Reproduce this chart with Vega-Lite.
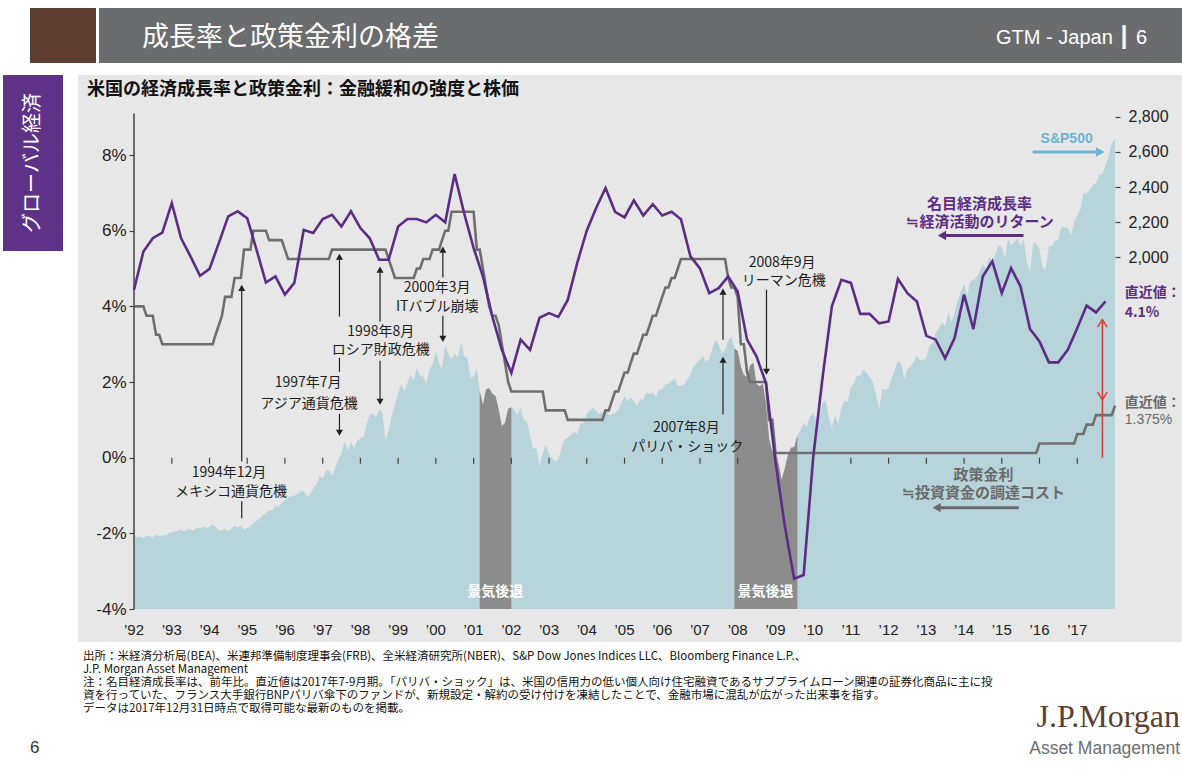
{
"$schema":"https://vega.github.io/schema/vega-lite/v6.json",
"padding":{"left":3,"top":8,"right":0,"bottom":0},
"background":"white",
"spacing":12,
"config":{"view":{"stroke":null},"font":"Noto Sans CJK JP","title":{"font":"Noto Sans CJK JP"},"text":{"font":"Noto Sans CJK JP"},"axis":{"labelFont":"Liberation Sans","grid":false}},
"datasets":{
"sp":[{"d":"1992-01-01","v":417.1},
{"d":"1992-02-01","v":408.8},{"d":"1992-03-01","v":412.7},{"d":"1992-04-01","v":403.7},{"d":"1992-05-01","v":414.9},{"d":"1992-06-01","v":415.4},{"d":"1992-07-01","v":408.1},{"d":"1992-08-01","v":424.2},{"d":"1992-09-01","v":414.0},{"d":"1992-10-01","v":417.8},{"d":"1992-11-01","v":418.7},{"d":"1992-12-01","v":431.4},{"d":"1993-01-01","v":435.7},
{"d":"1993-02-01","v":438.8},{"d":"1993-03-01","v":443.4},{"d":"1993-04-01","v":451.7},{"d":"1993-05-01","v":440.2},{"d":"1993-06-01","v":450.2},{"d":"1993-07-01","v":451.0},{"d":"1993-08-01","v":448.1},{"d":"1993-09-01","v":463.6},{"d":"1993-10-01","v":458.9},{"d":"1993-11-01","v":467.8},{"d":"1993-12-01","v":461.8},{"d":"1994-01-01","v":466.5},
{"d":"1994-02-01","v":481.6},{"d":"1994-03-01","v":467.1},{"d":"1994-04-01","v":445.8},{"d":"1994-05-01","v":450.9},{"d":"1994-06-01","v":456.5},{"d":"1994-07-01","v":444.3},{"d":"1994-08-01","v":458.3},{"d":"1994-09-01","v":475.5},{"d":"1994-10-01","v":462.7},{"d":"1994-11-01","v":472.4},{"d":"1994-12-01","v":453.7},{"d":"1995-01-01","v":459.3},
{"d":"1995-02-01","v":470.4},{"d":"1995-03-01","v":487.4},{"d":"1995-04-01","v":500.7},{"d":"1995-05-01","v":514.7},{"d":"1995-06-01","v":533.4},{"d":"1995-07-01","v":544.8},{"d":"1995-08-01","v":562.1},{"d":"1995-09-01","v":561.9},{"d":"1995-10-01","v":584.4},{"d":"1995-11-01","v":581.5},{"d":"1995-12-01","v":605.4},{"d":"1996-01-01","v":615.9},
{"d":"1996-02-01","v":636.0},{"d":"1996-03-01","v":640.4},{"d":"1996-04-01","v":645.5},{"d":"1996-05-01","v":654.2},{"d":"1996-06-01","v":669.1},{"d":"1996-07-01","v":670.6},{"d":"1996-08-01","v":639.9},{"d":"1996-09-01","v":652.0},{"d":"1996-10-01","v":687.3},{"d":"1996-11-01","v":705.3},{"d":"1996-12-01","v":757.0},{"d":"1997-01-01","v":740.7},
{"d":"1997-02-01","v":786.2},{"d":"1997-03-01","v":790.8},{"d":"1997-04-01","v":757.1},{"d":"1997-05-01","v":801.3},{"d":"1997-06-01","v":848.3},{"d":"1997-07-01","v":885.1},{"d":"1997-08-01","v":954.3},{"d":"1997-09-01","v":899.5},{"d":"1997-10-01","v":947.3},{"d":"1997-11-01","v":914.6},{"d":"1997-12-01","v":955.4},{"d":"1998-01-01","v":970.4},
{"d":"1998-02-01","v":980.3},{"d":"1998-03-01","v":1049.3},{"d":"1998-04-01","v":1101.8},{"d":"1998-05-01","v":1111.8},{"d":"1998-06-01","v":1090.8},{"d":"1998-07-01","v":1133.8},{"d":"1998-08-01","v":1120.7},{"d":"1998-09-01","v":957.3},{"d":"1998-10-01","v":1017.0},{"d":"1998-11-01","v":1098.7},{"d":"1998-12-01","v":1163.6},{"d":"1999-01-01","v":1229.2},
{"d":"1999-02-01","v":1279.6},{"d":"1999-03-01","v":1238.3},{"d":"1999-04-01","v":1286.4},{"d":"1999-05-01","v":1335.2},{"d":"1999-06-01","v":1301.8},{"d":"1999-07-01","v":1372.7},{"d":"1999-08-01","v":1328.7},{"d":"1999-09-01","v":1320.4},{"d":"1999-10-01","v":1282.7},{"d":"1999-11-01","v":1362.9},{"d":"1999-12-01","v":1388.9},{"d":"2000-01-01","v":1469.3},
{"d":"2000-02-01","v":1394.5},{"d":"2000-03-01","v":1366.4},{"d":"2000-04-01","v":1498.6},{"d":"2000-05-01","v":1452.4},{"d":"2000-06-01","v":1420.6},{"d":"2000-07-01","v":1454.6},{"d":"2000-08-01","v":1430.8},{"d":"2000-09-01","v":1517.7},{"d":"2000-10-01","v":1436.5},{"d":"2000-11-01","v":1429.4},{"d":"2000-12-01","v":1315.2},{"d":"2001-01-01","v":1320.3},
{"d":"2001-02-01","v":1366.0},{"d":"2001-03-01","v":1239.9},{"d":"2001-04-01","v":1160.3},{"d":"2001-05-01","v":1249.5},{"d":"2001-06-01","v":1255.8},{"d":"2001-07-01","v":1224.4},{"d":"2001-08-01","v":1211.2},{"d":"2001-09-01","v":1133.6},{"d":"2001-10-01","v":1040.9},{"d":"2001-11-01","v":1059.8},{"d":"2001-12-01","v":1139.5},{"d":"2002-01-01","v":1148.1},
{"d":"2002-02-01","v":1130.2},{"d":"2002-03-01","v":1106.7},{"d":"2002-04-01","v":1147.4},{"d":"2002-05-01","v":1076.9},{"d":"2002-06-01","v":1067.1},{"d":"2002-07-01","v":989.8},{"d":"2002-08-01","v":911.6},{"d":"2002-09-01","v":916.1},{"d":"2002-10-01","v":815.3},{"d":"2002-11-01","v":885.8},{"d":"2002-12-01","v":936.3},{"d":"2003-01-01","v":879.8},
{"d":"2003-02-01","v":855.7},{"d":"2003-03-01","v":841.2},{"d":"2003-04-01","v":848.2},{"d":"2003-05-01","v":916.9},{"d":"2003-06-01","v":963.6},{"d":"2003-07-01","v":974.5},{"d":"2003-08-01","v":990.3},{"d":"2003-09-01","v":1008.0},{"d":"2003-10-01","v":996.0},{"d":"2003-11-01","v":1050.7},{"d":"2003-12-01","v":1058.2},{"d":"2004-01-01","v":1111.9},
{"d":"2004-02-01","v":1131.1},{"d":"2004-03-01","v":1144.9},{"d":"2004-04-01","v":1126.2},{"d":"2004-05-01","v":1107.3},{"d":"2004-06-01","v":1120.7},{"d":"2004-07-01","v":1140.8},{"d":"2004-08-01","v":1101.7},{"d":"2004-09-01","v":1104.2},{"d":"2004-10-01","v":1114.6},{"d":"2004-11-01","v":1130.2},{"d":"2004-12-01","v":1173.8},{"d":"2005-01-01","v":1211.9},
{"d":"2005-02-01","v":1181.3},{"d":"2005-03-01","v":1203.6},{"d":"2005-04-01","v":1180.6},{"d":"2005-05-01","v":1156.9},{"d":"2005-06-01","v":1191.5},{"d":"2005-07-01","v":1191.3},{"d":"2005-08-01","v":1234.2},{"d":"2005-09-01","v":1220.3},{"d":"2005-10-01","v":1228.8},{"d":"2005-11-01","v":1207.0},{"d":"2005-12-01","v":1249.5},{"d":"2006-01-01","v":1248.3},
{"d":"2006-02-01","v":1280.1},{"d":"2006-03-01","v":1280.7},{"d":"2006-04-01","v":1294.9},{"d":"2006-05-01","v":1310.6},{"d":"2006-06-01","v":1270.1},{"d":"2006-07-01","v":1270.2},{"d":"2006-08-01","v":1276.7},{"d":"2006-09-01","v":1303.8},{"d":"2006-10-01","v":1335.9},{"d":"2006-11-01","v":1377.9},{"d":"2006-12-01","v":1400.6},{"d":"2007-01-01","v":1418.3},
{"d":"2007-02-01","v":1438.2},{"d":"2007-03-01","v":1406.8},{"d":"2007-04-01","v":1420.9},{"d":"2007-05-01","v":1482.4},{"d":"2007-06-01","v":1530.6},{"d":"2007-07-01","v":1503.4},{"d":"2007-08-01","v":1455.3},{"d":"2007-09-01","v":1474.0},{"d":"2007-10-01","v":1527.0},{"d":"2007-11-01","v":1549.4},{"d":"2007-12-01","v":1481.1},{"d":"2008-01-01","v":1468.4},
{"d":"2008-02-01","v":1378.6},{"d":"2008-03-01","v":1330.6},{"d":"2008-04-01","v":1322.7},{"d":"2008-05-01","v":1385.6},{"d":"2008-06-01","v":1400.4},{"d":"2008-07-01","v":1280.0},{"d":"2008-08-01","v":1267.4},{"d":"2008-09-01","v":1282.8},{"d":"2008-10-01","v":1166.4},{"d":"2008-11-01","v":968.8},{"d":"2008-12-01","v":896.2},{"d":"2009-01-01","v":903.3},
{"d":"2009-02-01","v":825.9},{"d":"2009-03-01","v":735.1},{"d":"2009-04-01","v":797.9},{"d":"2009-05-01","v":872.8},{"d":"2009-06-01","v":919.1},{"d":"2009-07-01","v":919.3},{"d":"2009-08-01","v":987.5},{"d":"2009-09-01","v":1020.6},{"d":"2009-10-01","v":1057.1},{"d":"2009-11-01","v":1036.2},{"d":"2009-12-01","v":1095.6},{"d":"2010-01-01","v":1115.1},
{"d":"2010-02-01","v":1073.9},{"d":"2010-03-01","v":1104.5},{"d":"2010-04-01","v":1169.4},{"d":"2010-05-01","v":1186.7},{"d":"2010-06-01","v":1089.4},{"d":"2010-07-01","v":1030.7},{"d":"2010-08-01","v":1101.6},{"d":"2010-09-01","v":1049.3},{"d":"2010-10-01","v":1141.2},{"d":"2010-11-01","v":1183.3},{"d":"2010-12-01","v":1180.6},{"d":"2011-01-01","v":1257.6},
{"d":"2011-02-01","v":1286.1},{"d":"2011-03-01","v":1327.2},{"d":"2011-04-01","v":1325.8},{"d":"2011-05-01","v":1363.6},{"d":"2011-06-01","v":1345.2},{"d":"2011-07-01","v":1320.6},{"d":"2011-08-01","v":1292.3},{"d":"2011-09-01","v":1218.9},{"d":"2011-10-01","v":1131.4},{"d":"2011-11-01","v":1253.3},{"d":"2011-12-01","v":1247.0},{"d":"2012-01-01","v":1257.6},
{"d":"2012-02-01","v":1312.4},{"d":"2012-03-01","v":1365.7},{"d":"2012-04-01","v":1408.5},{"d":"2012-05-01","v":1397.9},{"d":"2012-06-01","v":1310.3},{"d":"2012-07-01","v":1362.2},{"d":"2012-08-01","v":1379.3},{"d":"2012-09-01","v":1406.6},{"d":"2012-10-01","v":1440.7},{"d":"2012-11-01","v":1412.2},{"d":"2012-12-01","v":1416.2},{"d":"2013-01-01","v":1426.2},
{"d":"2013-02-01","v":1498.1},{"d":"2013-03-01","v":1514.7},{"d":"2013-04-01","v":1569.2},{"d":"2013-05-01","v":1597.6},{"d":"2013-06-01","v":1630.7},{"d":"2013-07-01","v":1606.3},{"d":"2013-08-01","v":1685.7},{"d":"2013-09-01","v":1633.0},{"d":"2013-10-01","v":1681.6},{"d":"2013-11-01","v":1756.5},{"d":"2013-12-01","v":1805.8},{"d":"2014-01-01","v":1848.4},
{"d":"2014-02-01","v":1782.6},{"d":"2014-03-01","v":1859.5},{"d":"2014-04-01","v":1872.3},{"d":"2014-05-01","v":1884.0},{"d":"2014-06-01","v":1923.6},{"d":"2014-07-01","v":1960.2},{"d":"2014-08-01","v":1930.7},{"d":"2014-09-01","v":2003.4},{"d":"2014-10-01","v":1972.3},{"d":"2014-11-01","v":2018.1},{"d":"2014-12-01","v":2067.6},{"d":"2015-01-01","v":2058.9},
{"d":"2015-02-01","v":1995.0},{"d":"2015-03-01","v":2104.5},{"d":"2015-04-01","v":2067.9},{"d":"2015-05-01","v":2085.5},{"d":"2015-06-01","v":2107.4},{"d":"2015-07-01","v":2063.1},{"d":"2015-08-01","v":2103.8},{"d":"2015-09-01","v":1972.2},{"d":"2015-10-01","v":1920.0},{"d":"2015-11-01","v":2079.4},{"d":"2015-12-01","v":2080.4},{"d":"2016-01-01","v":2043.9},
{"d":"2016-02-01","v":1940.2},{"d":"2016-03-01","v":1932.2},{"d":"2016-04-01","v":2059.7},{"d":"2016-05-01","v":2065.3},{"d":"2016-06-01","v":2097.0},{"d":"2016-07-01","v":2098.9},{"d":"2016-08-01","v":2173.6},{"d":"2016-09-01","v":2171.0},{"d":"2016-10-01","v":2168.3},{"d":"2016-11-01","v":2126.2},{"d":"2016-12-01","v":2199.0},{"d":"2017-01-01","v":2238.8},
{"d":"2017-02-01","v":2278.9},{"d":"2017-03-01","v":2363.6},{"d":"2017-04-01","v":2362.7},{"d":"2017-05-01","v":2384.2},{"d":"2017-06-01","v":2411.8},{"d":"2017-07-01","v":2423.4},{"d":"2017-08-01","v":2470.3},{"d":"2017-09-01","v":2471.7},{"d":"2017-10-01","v":2519.4},{"d":"2017-11-01","v":2575.3},{"d":"2017-12-01","v":2647.6},{"d":"2018-01-01","v":2673.6}],
"ff":[{"d":"1992-01-01","v":4},
{"d":"1992-02-01","v":4},{"d":"1992-03-01","v":4},{"d":"1992-04-01","v":4},{"d":"1992-05-01","v":3.75},{"d":"1992-06-01","v":3.75},{"d":"1992-07-01","v":3.75},{"d":"1992-08-01","v":3.25},{"d":"1992-09-01","v":3.25},{"d":"1992-10-01","v":3},{"d":"1992-11-01","v":3},{"d":"1992-12-01","v":3},{"d":"1993-01-01","v":3},
{"d":"1993-02-01","v":3},{"d":"1993-03-01","v":3},{"d":"1993-04-01","v":3},{"d":"1993-05-01","v":3},{"d":"1993-06-01","v":3},{"d":"1993-07-01","v":3},{"d":"1993-08-01","v":3},{"d":"1993-09-01","v":3},{"d":"1993-10-01","v":3},{"d":"1993-11-01","v":3},{"d":"1993-12-01","v":3},{"d":"1994-01-01","v":3},
{"d":"1994-02-01","v":3},{"d":"1994-03-01","v":3.25},{"d":"1994-04-01","v":3.5},{"d":"1994-05-01","v":3.75},{"d":"1994-06-01","v":4.25},{"d":"1994-07-01","v":4.25},{"d":"1994-08-01","v":4.25},{"d":"1994-09-01","v":4.75},{"d":"1994-10-01","v":4.75},{"d":"1994-11-01","v":4.75},{"d":"1994-12-01","v":5.5},{"d":"1995-01-01","v":5.5},
{"d":"1995-02-01","v":5.5},{"d":"1995-03-01","v":6},{"d":"1995-04-01","v":6},{"d":"1995-05-01","v":6},{"d":"1995-06-01","v":6},{"d":"1995-07-01","v":6},{"d":"1995-08-01","v":5.75},{"d":"1995-09-01","v":5.75},{"d":"1995-10-01","v":5.75},{"d":"1995-11-01","v":5.75},{"d":"1995-12-01","v":5.75},{"d":"1996-01-01","v":5.5},
{"d":"1996-02-01","v":5.25},{"d":"1996-03-01","v":5.25},{"d":"1996-04-01","v":5.25},{"d":"1996-05-01","v":5.25},{"d":"1996-06-01","v":5.25},{"d":"1996-07-01","v":5.25},{"d":"1996-08-01","v":5.25},{"d":"1996-09-01","v":5.25},{"d":"1996-10-01","v":5.25},{"d":"1996-11-01","v":5.25},{"d":"1996-12-01","v":5.25},{"d":"1997-01-01","v":5.25},
{"d":"1997-02-01","v":5.25},{"d":"1997-03-01","v":5.25},{"d":"1997-04-01","v":5.5},{"d":"1997-05-01","v":5.5},{"d":"1997-06-01","v":5.5},{"d":"1997-07-01","v":5.5},{"d":"1997-08-01","v":5.5},{"d":"1997-09-01","v":5.5},{"d":"1997-10-01","v":5.5},{"d":"1997-11-01","v":5.5},{"d":"1997-12-01","v":5.5},{"d":"1998-01-01","v":5.5},
{"d":"1998-02-01","v":5.5},{"d":"1998-03-01","v":5.5},{"d":"1998-04-01","v":5.5},{"d":"1998-05-01","v":5.5},{"d":"1998-06-01","v":5.5},{"d":"1998-07-01","v":5.5},{"d":"1998-08-01","v":5.5},{"d":"1998-09-01","v":5.5},{"d":"1998-10-01","v":5.25},{"d":"1998-11-01","v":5},{"d":"1998-12-01","v":4.75},{"d":"1999-01-01","v":4.75},
{"d":"1999-02-01","v":4.75},{"d":"1999-03-01","v":4.75},{"d":"1999-04-01","v":4.75},{"d":"1999-05-01","v":4.75},{"d":"1999-06-01","v":4.75},{"d":"1999-07-01","v":5},{"d":"1999-08-01","v":5},{"d":"1999-09-01","v":5.25},{"d":"1999-10-01","v":5.25},{"d":"1999-11-01","v":5.25},{"d":"1999-12-01","v":5.5},{"d":"2000-01-01","v":5.5},
{"d":"2000-02-01","v":5.5},{"d":"2000-03-01","v":5.75},{"d":"2000-04-01","v":6},{"d":"2000-05-01","v":6},{"d":"2000-06-01","v":6.5},{"d":"2000-07-01","v":6.5},{"d":"2000-08-01","v":6.5},{"d":"2000-09-01","v":6.5},{"d":"2000-10-01","v":6.5},{"d":"2000-11-01","v":6.5},{"d":"2000-12-01","v":6.5},{"d":"2001-01-01","v":6.5},
{"d":"2001-02-01","v":5.5},{"d":"2001-03-01","v":5.5},{"d":"2001-04-01","v":5},{"d":"2001-05-01","v":4.5},{"d":"2001-06-01","v":4},{"d":"2001-07-01","v":3.75},{"d":"2001-08-01","v":3.75},{"d":"2001-09-01","v":3.5},{"d":"2001-10-01","v":3},{"d":"2001-11-01","v":2.5},{"d":"2001-12-01","v":2},{"d":"2002-01-01","v":1.75},
{"d":"2002-02-01","v":1.75},{"d":"2002-03-01","v":1.75},{"d":"2002-04-01","v":1.75},{"d":"2002-05-01","v":1.75},{"d":"2002-06-01","v":1.75},{"d":"2002-07-01","v":1.75},{"d":"2002-08-01","v":1.75},{"d":"2002-09-01","v":1.75},{"d":"2002-10-01","v":1.75},{"d":"2002-11-01","v":1.75},{"d":"2002-12-01","v":1.25},{"d":"2003-01-01","v":1.25},
{"d":"2003-02-01","v":1.25},{"d":"2003-03-01","v":1.25},{"d":"2003-04-01","v":1.25},{"d":"2003-05-01","v":1.25},{"d":"2003-06-01","v":1.25},{"d":"2003-07-01","v":1},{"d":"2003-08-01","v":1},{"d":"2003-09-01","v":1},{"d":"2003-10-01","v":1},{"d":"2003-11-01","v":1},{"d":"2003-12-01","v":1},{"d":"2004-01-01","v":1},
{"d":"2004-02-01","v":1},{"d":"2004-03-01","v":1},{"d":"2004-04-01","v":1},{"d":"2004-05-01","v":1},{"d":"2004-06-01","v":1},{"d":"2004-07-01","v":1.25},{"d":"2004-08-01","v":1.25},{"d":"2004-09-01","v":1.5},{"d":"2004-10-01","v":1.75},{"d":"2004-11-01","v":1.75},{"d":"2004-12-01","v":2},{"d":"2005-01-01","v":2.25},
{"d":"2005-02-01","v":2.25},{"d":"2005-03-01","v":2.5},{"d":"2005-04-01","v":2.75},{"d":"2005-05-01","v":2.75},{"d":"2005-06-01","v":3},{"d":"2005-07-01","v":3.25},{"d":"2005-08-01","v":3.25},{"d":"2005-09-01","v":3.5},{"d":"2005-10-01","v":3.75},{"d":"2005-11-01","v":3.75},{"d":"2005-12-01","v":4},{"d":"2006-01-01","v":4.25},
{"d":"2006-02-01","v":4.5},{"d":"2006-03-01","v":4.5},{"d":"2006-04-01","v":4.75},{"d":"2006-05-01","v":4.75},{"d":"2006-06-01","v":5},{"d":"2006-07-01","v":5.25},{"d":"2006-08-01","v":5.25},{"d":"2006-09-01","v":5.25},{"d":"2006-10-01","v":5.25},{"d":"2006-11-01","v":5.25},{"d":"2006-12-01","v":5.25},{"d":"2007-01-01","v":5.25},
{"d":"2007-02-01","v":5.25},{"d":"2007-03-01","v":5.25},{"d":"2007-04-01","v":5.25},{"d":"2007-05-01","v":5.25},{"d":"2007-06-01","v":5.25},{"d":"2007-07-01","v":5.25},{"d":"2007-08-01","v":5.25},{"d":"2007-09-01","v":5.25},{"d":"2007-10-01","v":4.75},{"d":"2007-11-01","v":4.5},{"d":"2007-12-01","v":4.5},{"d":"2008-01-01","v":4.25},
{"d":"2008-02-01","v":3},{"d":"2008-03-01","v":3},{"d":"2008-04-01","v":2.25},{"d":"2008-05-01","v":2},{"d":"2008-06-01","v":2},{"d":"2008-07-01","v":2},{"d":"2008-08-01","v":2},{"d":"2008-09-01","v":2},{"d":"2008-10-01","v":2},{"d":"2008-11-01","v":1},{"d":"2008-12-01","v":1},{"d":"2009-01-01","v":0.125},
{"d":"2009-02-01","v":0.125},{"d":"2009-03-01","v":0.125},{"d":"2009-04-01","v":0.125},{"d":"2009-05-01","v":0.125},{"d":"2009-06-01","v":0.125},{"d":"2009-07-01","v":0.125},{"d":"2009-08-01","v":0.125},{"d":"2009-09-01","v":0.125},{"d":"2009-10-01","v":0.125},{"d":"2009-11-01","v":0.125},{"d":"2009-12-01","v":0.125},{"d":"2010-01-01","v":0.125},
{"d":"2010-02-01","v":0.125},{"d":"2010-03-01","v":0.125},{"d":"2010-04-01","v":0.125},{"d":"2010-05-01","v":0.125},{"d":"2010-06-01","v":0.125},{"d":"2010-07-01","v":0.125},{"d":"2010-08-01","v":0.125},{"d":"2010-09-01","v":0.125},{"d":"2010-10-01","v":0.125},{"d":"2010-11-01","v":0.125},{"d":"2010-12-01","v":0.125},{"d":"2011-01-01","v":0.125},
{"d":"2011-02-01","v":0.125},{"d":"2011-03-01","v":0.125},{"d":"2011-04-01","v":0.125},{"d":"2011-05-01","v":0.125},{"d":"2011-06-01","v":0.125},{"d":"2011-07-01","v":0.125},{"d":"2011-08-01","v":0.125},{"d":"2011-09-01","v":0.125},{"d":"2011-10-01","v":0.125},{"d":"2011-11-01","v":0.125},{"d":"2011-12-01","v":0.125},{"d":"2012-01-01","v":0.125},
{"d":"2012-02-01","v":0.125},{"d":"2012-03-01","v":0.125},{"d":"2012-04-01","v":0.125},{"d":"2012-05-01","v":0.125},{"d":"2012-06-01","v":0.125},{"d":"2012-07-01","v":0.125},{"d":"2012-08-01","v":0.125},{"d":"2012-09-01","v":0.125},{"d":"2012-10-01","v":0.125},{"d":"2012-11-01","v":0.125},{"d":"2012-12-01","v":0.125},{"d":"2013-01-01","v":0.125},
{"d":"2013-02-01","v":0.125},{"d":"2013-03-01","v":0.125},{"d":"2013-04-01","v":0.125},{"d":"2013-05-01","v":0.125},{"d":"2013-06-01","v":0.125},{"d":"2013-07-01","v":0.125},{"d":"2013-08-01","v":0.125},{"d":"2013-09-01","v":0.125},{"d":"2013-10-01","v":0.125},{"d":"2013-11-01","v":0.125},{"d":"2013-12-01","v":0.125},{"d":"2014-01-01","v":0.125},
{"d":"2014-02-01","v":0.125},{"d":"2014-03-01","v":0.125},{"d":"2014-04-01","v":0.125},{"d":"2014-05-01","v":0.125},{"d":"2014-06-01","v":0.125},{"d":"2014-07-01","v":0.125},{"d":"2014-08-01","v":0.125},{"d":"2014-09-01","v":0.125},{"d":"2014-10-01","v":0.125},{"d":"2014-11-01","v":0.125},{"d":"2014-12-01","v":0.125},{"d":"2015-01-01","v":0.125},
{"d":"2015-02-01","v":0.125},{"d":"2015-03-01","v":0.125},{"d":"2015-04-01","v":0.125},{"d":"2015-05-01","v":0.125},{"d":"2015-06-01","v":0.125},{"d":"2015-07-01","v":0.125},{"d":"2015-08-01","v":0.125},{"d":"2015-09-01","v":0.125},{"d":"2015-10-01","v":0.125},{"d":"2015-11-01","v":0.125},{"d":"2015-12-01","v":0.125},{"d":"2016-01-01","v":0.375},
{"d":"2016-02-01","v":0.375},{"d":"2016-03-01","v":0.375},{"d":"2016-04-01","v":0.375},{"d":"2016-05-01","v":0.375},{"d":"2016-06-01","v":0.375},{"d":"2016-07-01","v":0.375},{"d":"2016-08-01","v":0.375},{"d":"2016-09-01","v":0.375},{"d":"2016-10-01","v":0.375},{"d":"2016-11-01","v":0.375},{"d":"2016-12-01","v":0.375},{"d":"2017-01-01","v":0.625},
{"d":"2017-02-01","v":0.625},{"d":"2017-03-01","v":0.625},{"d":"2017-04-01","v":0.875},{"d":"2017-05-01","v":0.875},{"d":"2017-06-01","v":0.875},{"d":"2017-07-01","v":1.125},{"d":"2017-08-01","v":1.125},{"d":"2017-09-01","v":1.125},{"d":"2017-10-01","v":1.125},{"d":"2017-11-01","v":1.125},{"d":"2017-12-01","v":1.125},{"d":"2018-01-01","v":1.375}],
"gdp":[{"d":"1992-01-01","v":4.44},{"d":"1992-04-01","v":5.45},{"d":"1992-07-01","v":5.8},{"d":"1992-10-01","v":5.95},
{"d":"1993-01-01","v":6.73},{"d":"1993-04-01","v":5.8},{"d":"1993-07-01","v":5.32},{"d":"1993-10-01","v":4.81},
{"d":"1994-01-01","v":4.99},{"d":"1994-04-01","v":5.67},{"d":"1994-07-01","v":6.38},{"d":"1994-10-01","v":6.51},
{"d":"1995-01-01","v":6.33},{"d":"1995-04-01","v":5.5},{"d":"1995-07-01","v":4.63},{"d":"1995-10-01","v":4.79},
{"d":"1996-01-01","v":4.31},{"d":"1996-04-01","v":4.62},{"d":"1996-07-01","v":6.02},{"d":"1996-10-01","v":5.94},
{"d":"1997-01-01","v":6.31},{"d":"1997-04-01","v":6.42},{"d":"1997-07-01","v":6.11},{"d":"1997-10-01","v":6.51},
{"d":"1998-01-01","v":6.07},{"d":"1998-04-01","v":5.8},{"d":"1998-07-01","v":5.23},{"d":"1998-10-01","v":5.23},
{"d":"1999-01-01","v":6.11},{"d":"1999-04-01","v":6.31},{"d":"1999-07-01","v":6.31},{"d":"1999-10-01","v":6.22},
{"d":"2000-01-01","v":6.42},{"d":"2000-04-01","v":6.22},{"d":"2000-07-01","v":7.5},{"d":"2000-10-01","v":6.46},
{"d":"2001-01-01","v":5.54},{"d":"2001-04-01","v":4.79},{"d":"2001-07-01","v":3.73},{"d":"2001-10-01","v":2.85},
{"d":"2002-01-01","v":2.24},{"d":"2002-04-01","v":3.12},{"d":"2002-07-01","v":2.85},{"d":"2002-10-01","v":3.7},
{"d":"2003-01-01","v":3.82},{"d":"2003-04-01","v":3.72},{"d":"2003-07-01","v":4.17},{"d":"2003-10-01","v":5.15},
{"d":"2004-01-01","v":6.0},{"d":"2004-04-01","v":6.6},{"d":"2004-07-01","v":7.13},{"d":"2004-10-01","v":6.5},
{"d":"2005-01-01","v":6.35},{"d":"2005-04-01","v":6.8},{"d":"2005-07-01","v":6.4},{"d":"2005-10-01","v":6.7},
{"d":"2006-01-01","v":6.4},{"d":"2006-04-01","v":6.5},{"d":"2006-07-01","v":6.3},{"d":"2006-10-01","v":5.32},
{"d":"2007-01-01","v":5.0},{"d":"2007-04-01","v":4.35},{"d":"2007-07-01","v":4.48},{"d":"2007-10-01","v":4.79},
{"d":"2008-01-01","v":4.39},{"d":"2008-04-01","v":3.12},{"d":"2008-07-01","v":2.68},{"d":"2008-10-01","v":1.97},
{"d":"2009-01-01","v":-0.1},{"d":"2009-04-01","v":-1.8},{"d":"2009-07-01","v":-3.2},{"d":"2009-10-01","v":-3.1},
{"d":"2010-01-01","v":0.0},{"d":"2010-04-01","v":2.1},{"d":"2010-07-01","v":4.0},{"d":"2010-10-01","v":4.7},
{"d":"2011-01-01","v":4.62},{"d":"2011-04-01","v":3.8},{"d":"2011-07-01","v":3.8},{"d":"2011-10-01","v":3.55},
{"d":"2012-01-01","v":3.6},{"d":"2012-04-01","v":4.72},{"d":"2012-07-01","v":4.35},{"d":"2012-10-01","v":4.13},
{"d":"2013-01-01","v":3.22},{"d":"2013-04-01","v":3.12},{"d":"2013-07-01","v":2.63},{"d":"2013-10-01","v":3.16},
{"d":"2014-01-01","v":4.31},{"d":"2014-04-01","v":3.4},{"d":"2014-07-01","v":4.79},{"d":"2014-10-01","v":5.19},
{"d":"2015-01-01","v":4.35},{"d":"2015-04-01","v":5.01},{"d":"2015-07-01","v":4.53},{"d":"2015-10-01","v":3.4},
{"d":"2016-01-01","v":3.07},{"d":"2016-04-01","v":2.52},{"d":"2016-07-01","v":2.52},{"d":"2016-10-01","v":2.85},
{"d":"2017-01-01","v":3.43},{"d":"2017-04-01","v":4.02},{"d":"2017-07-01","v":3.84},{"d":"2017-10-01","v":4.13}],
"la":[{"d":"1992-01-01","v":-4,"v2":9.1}],
"yt":[{"d":"1993-01-01","v":0,"v2":-0.16},{"d":"1994-01-01","v":0,"v2":-0.16},{"d":"1995-01-01","v":0,"v2":-0.16},{"d":"1996-01-01","v":0,"v2":-0.16},{"d":"1997-01-01","v":0,"v2":-0.16},{"d":"1998-01-01","v":0,"v2":-0.16},{"d":"1999-01-01","v":0,"v2":-0.16},{"d":"2000-01-01","v":0,"v2":-0.16},{"d":"2001-01-01","v":0,"v2":-0.16},{"d":"2002-01-01","v":0,"v2":-0.16},{"d":"2003-01-01","v":0,"v2":-0.16},{"d":"2004-01-01","v":0,"v2":-0.16},{"d":"2005-01-01","v":0,"v2":-0.16},{"d":"2006-01-01","v":0,"v2":-0.16},{"d":"2007-01-01","v":0,"v2":-0.16},{"d":"2008-01-01","v":0,"v2":-0.16},{"d":"2009-01-01","v":0,"v2":-0.16},{"d":"2010-01-01","v":0,"v2":-0.16},{"d":"2011-01-01","v":0,"v2":-0.16},{"d":"2012-01-01","v":0,"v2":-0.16},{"d":"2013-01-01","v":0,"v2":-0.16},{"d":"2014-01-01","v":0,"v2":-0.16},{"d":"2015-01-01","v":0,"v2":-0.16},{"d":"2016-01-01","v":0,"v2":-0.16},{"d":"2017-01-01","v":0,"v2":-0.16}],
"yl":[{"d":"1992-01-01","v":-4.55,"t":"’92"},{"d":"1993-01-01","v":-4.55,"t":"’93"},{"d":"1994-01-01","v":-4.55,"t":"’94"},{"d":"1995-01-01","v":-4.55,"t":"’95"},{"d":"1996-01-01","v":-4.55,"t":"’96"},{"d":"1997-01-01","v":-4.55,"t":"’97"},{"d":"1998-01-01","v":-4.55,"t":"’98"},{"d":"1999-01-01","v":-4.55,"t":"’99"},{"d":"2000-01-01","v":-4.55,"t":"’00"},{"d":"2001-01-01","v":-4.55,"t":"’01"},{"d":"2002-01-01","v":-4.55,"t":"’02"},{"d":"2003-01-01","v":-4.55,"t":"’03"},{"d":"2004-01-01","v":-4.55,"t":"’04"},{"d":"2005-01-01","v":-4.55,"t":"’05"},{"d":"2006-01-01","v":-4.55,"t":"’06"},{"d":"2007-01-01","v":-4.55,"t":"’07"},{"d":"2008-01-01","v":-4.55,"t":"’08"},{"d":"2009-01-01","v":-4.55,"t":"’09"},{"d":"2010-01-01","v":-4.55,"t":"’10"},{"d":"2011-01-01","v":-4.55,"t":"’11"},{"d":"2012-01-01","v":-4.55,"t":"’12"},{"d":"2013-01-01","v":-4.55,"t":"’13"},{"d":"2014-01-01","v":-4.55,"t":"’14"},{"d":"2015-01-01","v":-4.55,"t":"’15"},{"d":"2016-01-01","v":-4.55,"t":"’16"},{"d":"2017-01-01","v":-4.55,"t":"’17"}],
"notes":[{"d":"1994-07-09","v":-0.4,"t":"1994年12月"},{"d":"1994-07-28","v":-0.9,"t":"メキシコ通貨危機"},{"d":"1996-08-13","v":1.98,"t":"1997年7月"},{"d":"1996-08-22","v":1.43,"t":"アジア通貨危機"},{"d":"1998-07-17","v":3.33,"t":"1998年8月"},{"d":"1998-07-17","v":2.85,"t":"ロシア財政危機"},{"d":"2000-01-14","v":4.49,"t":"2000年3月"},{"d":"2000-01-14","v":3.99,"t":"ITバブル崩壊"},{"d":"2006-08-22","v":0.79,"t":"2007年8月"},{"d":"2006-09-01","v":0.29,"t":"パリバ・ショック"},{"d":"2009-03-07","v":5.14,"t":"2008年9月"},{"d":"2009-03-23","v":4.66,"t":"リーマン危機"}],
"arr":[{"d":"1994-11-09","v":4.49,"v2":-0.1},{"d":"1994-11-09","v":-1.15,"v2":-1.6},{"d":"1997-06-12","v":5.31,"v2":3.73},{"d":"1997-06-12","v":2.64,"v2":2.27},{"d":"1997-06-12","v":1.16,"v2":0.66},{"d":"1998-07-10","v":4.97,"v2":3.59},{"d":"1998-07-10","v":2.56,"v2":1.48},{"d":"2000-03-09","v":5.5,"v2":4.76},{"d":"2000-03-09","v":3.75,"v2":3.14},{"d":"2007-08-12","v":4.39,"v2":3.12},{"d":"2007-08-12","v":2.59,"v2":1.14},{"d":"2008-10-06","v":4.44,"v2":2.27}],
"hu":[{"d":"1994-11-09","v":4.49},{"d":"1997-06-12","v":5.31},{"d":"1998-07-10","v":4.97},{"d":"2000-03-09","v":5.5},{"d":"2007-08-12","v":4.39},{"d":"2007-08-12","v":2.59}],
"hd":[{"d":"1997-06-12","v":0.66},{"d":"1998-07-10","v":1.48},{"d":"2000-03-09","v":3.14},{"d":"2008-10-06","v":2.27}],
"rec":[{"d":"2001-07-29","v":-3.54,"t":"景気後退"},{"d":"2008-09-26","v":-3.54,"t":"景気後退"}],
"pl":[{"d":"2014-05-30","v":6.7,"t":"名目経済成長率"},{"d":"2014-06-05","v":6.22,"t":"≒経済活動のリターン"}],
"pa":[{"d":"2013-07-10","d2":"2015-07-30","v":5.87}],
"pah":[{"d":"2013-06-01","v":5.87}],
"pr":[{"d":"2018-04-05","v":4.36,"t":"直近値："},{"d":"2018-04-05","v":3.83,"t":"4.1%"}],
"gl":[{"d":"2014-07-08","v":-0.46,"t":"政策金利"},{"d":"2014-07-08","v":-0.94,"t":"≒投資資金の調達コスト"}],
"ga":[{"d":"2013-05-15","d2":"2015-06-15","v":-1.32}],
"gah":[{"d":"2013-04-10","v":-1.32}],
"gr1":[{"d":"2018-04-05","v":1.45,"t":"直近値："}],
"gr2":[{"d":"2018-04-05","v":1.0,"t":"1.375%"}],
"bl":[{"d":"2016-09-20","v":8.43,"t":"S&P500"}],
"ba":[{"d":"2015-10-27","d2":"2017-07-10","v":8.08}],
"bah":[{"d":"2017-08-10","v":8.08}],
"ra":[{"d":"2017-09-01","v":3.6,"v2":1.58}],
"rhu":[{"d":"2017-09-01","v":3.65}],
"rhd":[{"d":"2017-09-01","v":1.53}]
},
"vconcat":[
{"spacing":3,"hconcat":[
 {"width":24,"height":55,"data":{"values":[{}]},"mark":"text","encoding":{"text":{"value":""}}},
 {"width":66,"height":55,"view":{"fill":"#5c3d2f"},"data":{"values":[{}]},"mark":"text","encoding":{"text":{"value":""}}},
 {"spacing":0,"hconcat":[
  {"width":850,"height":55,"view":{"fill":"#6b6c6e"},"data":{"values":[{}]},"mark":"text","encoding":{"text":{"value":""}},
   "title":{"text":"成長率と政策金利の格差","anchor":"start","frame":"group","dx":43,"offset":-43.5,"fontSize":27,"fontWeight":"normal","color":"#ffffff"}},
  {"width":233,"height":55,"view":{"fill":"#6b6c6e"},"data":{"values":[{}]},"mark":"text","encoding":{"text":{"value":""}},
   "title":{"text":"GTM - Japan  ┃  6","anchor":"end","frame":"group","dx":-35,"offset":-40,"fontSize":20,"fontWeight":"normal","color":"#ffffff","font":"Liberation Sans Narrow, Liberation Sans"}}
 ]}
]},
{"spacing":6,"vconcat":[
{"spacing":15,"hconcat":[
 {"width":60,"height":176,"view":{"fill":"#5e3286"},"data":{"values":[{}]},"mark":"text","encoding":{"text":{"value":""}},
  "title":{"text":"グローバル経済","orient":"left","anchor":"middle","offset":-40,"fontSize":20,"fontWeight":"normal","color":"#ffffff"}},
 {"width":1104,"height":567,
  "view":{"fill":"#e7e7e7","stroke":null},
  "title":{"text":"米国の経済成長率と政策金利：金融緩和の強度と株価","anchor":"start","frame":"group","dx":9,"offset":-24,"fontSize":18,"fontWeight":"bold","color":"#111111"},
  "layer":[
   {"encoding":{
     "x":{"field":"d","type":"temporal","scale":{"type":"utc","domain":[694224000000,1514764800000],"range":[56,1037]},"axis":null},
     "y":{"field":"v","type":"quantitative","scale":{"domain":[0,2820],"range":[534,38.2],"nice":false,"zero":false},
     "axis":{"orient":"right","offset":-67,"values":[2000,2200,2400,2600,2800],"format":",.0f","domain":false,"tickSize":5,"tickColor":"#444444","tickWidth":1.2,"labelPadding":8,"labelFontSize":16,"labelColor":"#222222","title":null,"grid":false,"zindex":1}}},
    "layer":[
     {"data":{"name":"sp"},"mark":{"type":"area","color":"#b7d4db","opacity":1}},
     {"data":{"name":"sp"},"transform":[{"filter":{"field":"d","range":[{"year":2001,"month":2,"date":20,"utc":true},{"year":2002,"month":1,"date":10,"utc":true}]}}],"mark":{"type":"area","color":"#8c8c8c","opacity":1}},
     {"data":{"name":"sp"},"transform":[{"filter":{"field":"d","range":[{"year":2007,"month":11,"date":20,"utc":true},{"year":2009,"month":8,"date":10,"utc":true}]}}],"mark":{"type":"area","color":"#8c8c8c","opacity":1}},
     {"data":{"values":[{}]},"mark":{"type":"rule","color":"#444444","strokeWidth":1.5},"encoding":{"x":{"datum":1514764800000,"type":"temporal","axis":null},"y":{"datum":1870},"y2":{"datum":2820}}}
    ]},
   {"encoding":{
     "x":{"field":"d","type":"temporal",
      "scale":{"type":"utc","domain":[694224000000,1514764800000],"range":[56,1037]},
      "axis":{"orient":"bottom","tickCount":{"interval":"year","step":1},"labels":false,"ticks":false,
       "domainColor":"#444444","domainWidth":1.5,"offset":-184,"title":null,"grid":false,"zindex":1}},
     "y":{"field":"v","type":"quantitative","scale":{"domain":[-4.75,9.1],"range":[562.4,38.4],"nice":false,"zero":false},
     "axis":{"orient":"left","offset":-56,"values":[-4,-2,0,2,4,6,8],"labelExpr":"datum.value + '%'","domain":false,"tickSize":5,"tickColor":"#444444","tickWidth":1.2,"labelPadding":3,"labelFontSize":17,"labelColor":"#222222","title":null,"grid":false,"zindex":1}}},
    "layer":[
     {"data":{"name":"la"},"mark":{"type":"rule","color":"#444444","strokeWidth":1.5},"encoding":{"y2":{"field":"v2"}}},
     {"data":{"name":"ff"},"mark":{"type":"line","color":"#6f6f6f","strokeWidth":2.6}},
     {"data":{"name":"gdp"},"mark":{"type":"line","color":"#5c2d84","strokeWidth":2.6}},
     {"data":{"name":"yt"},"mark":{"type":"rule","color":"#444444","strokeWidth":1.2},"encoding":{"y2":{"field":"v2"}}},
     {"data":{"name":"yl"},"mark":{"type":"text","fontSize":15,"font":"Liberation Sans","color":"#222222","align":"center","baseline":"middle"},"encoding":{"text":{"field":"t"}}},
     {"data":{"name":"arr"},"mark":{"type":"rule","color":"#222222","strokeWidth":1.2},"encoding":{"y2":{"field":"v2"}}},
     {"data":{"name":"hu"},"mark":{"type":"point","shape":"triangle-up","filled":true,"size":50,"color":"#222222","opacity":1}},
     {"data":{"name":"hd"},"mark":{"type":"point","shape":"triangle-down","filled":true,"size":50,"color":"#222222","opacity":1}},
     {"data":{"name":"notes"},"mark":{"type":"text","fontSize":14,"color":"#1e1e1e","align":"center","baseline":"middle"},"encoding":{"text":{"field":"t"}}},
     {"data":{"name":"rec"},"mark":{"type":"text","fontSize":14,"fontWeight":"bold","color":"#ffffff","align":"center","baseline":"middle"},"encoding":{"text":{"field":"t"}}},
     {"data":{"name":"pl"},"mark":{"type":"text","fontSize":15,"fontWeight":"bold","color":"#5c2d84","align":"center","baseline":"middle"},"encoding":{"text":{"field":"t"}}},
     {"data":{"name":"pa"},"mark":{"type":"rule","color":"#5c2d84","strokeWidth":3},"encoding":{"x2":{"field":"d2"}}},
     {"data":{"name":"pah"},"mark":{"type":"point","shape":"triangle-left","filled":true,"size":90,"color":"#5c2d84","opacity":1}},
     {"data":{"name":"pr"},"mark":{"type":"text","fontSize":14,"fontWeight":"bold","color":"#5c2d84","align":"left","baseline":"middle"},"encoding":{"text":{"field":"t"}}},
     {"data":{"name":"gl"},"mark":{"type":"text","fontSize":15,"fontWeight":"bold","color":"#6a6a6a","align":"center","baseline":"middle"},"encoding":{"text":{"field":"t"}}},
     {"data":{"name":"ga"},"mark":{"type":"rule","color":"#6a6a6a","strokeWidth":3},"encoding":{"x2":{"field":"d2"}}},
     {"data":{"name":"gah"},"mark":{"type":"point","shape":"triangle-left","filled":true,"size":90,"color":"#6a6a6a","opacity":1}},
     {"data":{"name":"gr1"},"mark":{"type":"text","fontSize":14,"fontWeight":"bold","color":"#6a6a6a","align":"left","baseline":"middle"},"encoding":{"text":{"field":"t"}}},
     {"data":{"name":"gr2"},"mark":{"type":"text","fontSize":14,"font":"Liberation Sans","color":"#6a6a6a","align":"left","baseline":"middle"},"encoding":{"text":{"field":"t"}}},
     {"data":{"name":"bl"},"mark":{"type":"text","fontSize":14,"fontWeight":"bold","font":"Liberation Sans","color":"#6cb4d2","align":"center","baseline":"middle"},"encoding":{"text":{"field":"t"}}},
     {"data":{"name":"ba"},"mark":{"type":"rule","color":"#6cb4d2","strokeWidth":3},"encoding":{"x2":{"field":"d2"}}},
     {"data":{"name":"bah"},"mark":{"type":"point","shape":"triangle-right","filled":true,"size":90,"color":"#6cb4d2","opacity":1}},
     {"data":{"name":"ra"},"mark":{"type":"rule","color":"#e5392f","strokeWidth":1.5},"encoding":{}},
     {"data":{"name":"rhu"},"mark":{"type":"point","shape":"M-1,1.6L0,0L1,1.6","filled":false,"size":90,"color":"#e5392f","strokeWidth":1.5,"opacity":1}},
     {"data":{"name":"rhd"},"mark":{"type":"point","shape":"M-1,-1.6L0,0L1,-1.6","filled":false,"size":90,"color":"#e5392f","strokeWidth":1.5,"opacity":1}}
    ]}
  ],
  "resolve":{"scale":{"y":"independent"},"axis":{"y":"independent"}}
 }
]},
{"spacing":0,"hconcat":[
 {"width":75,"height":110,"data":{"values":[{}]},"mark":"text","encoding":{"text":{"value":""}},
  "title":{"text":"6","anchor":"start","frame":"group","dx":27,"offset":-108.5,"fontSize":17,"fontWeight":"normal","color":"#333333","font":"Liberation Sans"}},
 {"width":942,"height":110,"data":{"values":[{}]},"mark":"text","encoding":{"text":{"value":""}},
  "title":{"text":["出所：米経済分析局(BEA)、米連邦準備制度理事会(FRB)、全米経済研究所(NBER)、S&P Dow Jones Indices LLC、Bloomberg Finance L.P.、","J.P. Morgan Asset Management","注：名目経済成長率は、前年比。直近値は2017年7-9月期。「パリバ・ショック」は、米国の信用力の低い個人向け住宅融資であるサブプライムローン関連の証券化商品に主に投","資を行っていた、フランス大手銀行BNPパリバ傘下のファンドが、新規設定・解約の受け付けを凍結したことで、金融市場に混乱が広がった出来事を指す。","データは2017年12月31日時点で取得可能な最新のものを掲載。"],
   "anchor":"start","frame":"group","dx":5,"offset":-66,"fontSize":11.5,"lineHeight":13,"fontWeight":"normal","color":"#111111"}},
 {"width":162,"height":110,"data":{"values":[{}]},"mark":"text","encoding":{"text":{"value":""}},
  "title":{"text":"J.P.Morgan","subtitle":"Asset Management","anchor":"end","frame":"group","dx":-2,"offset":-110,"fontSize":32,"fontWeight":"normal","color":"#5b3f31","font":"Liberation Serif","subtitleFont":"Liberation Sans","subtitleFontSize":17.5,"subtitleColor":"#6d6e70","subtitlePadding":6}}
]}
]}
]
}
